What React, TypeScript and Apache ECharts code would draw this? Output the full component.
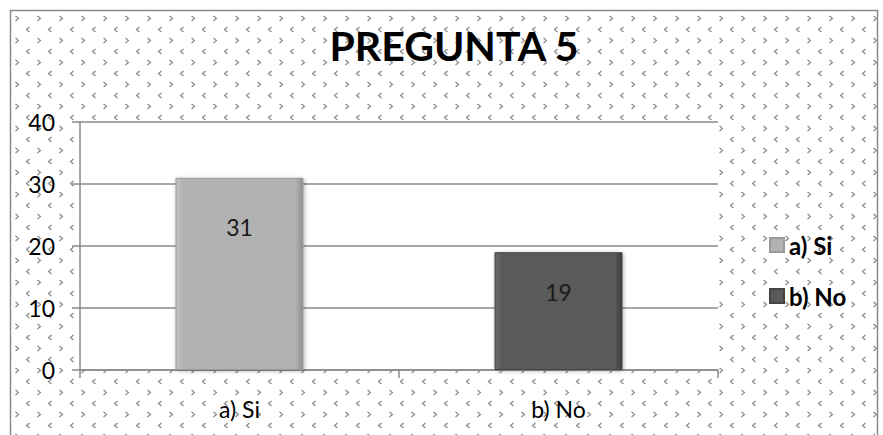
import React, { useEffect, useRef } from "react";
import * as echarts from "echarts";

const categories = ["a) Si", "b) No"];
const values = [31, 19];
const seriesColors = ["#b2b2b2", "#5a5a5a"];
const labelDistances = [38, 28];
const yTicks = { min: 0, max: 40, interval: 10 };
const titleText = "PREGUNTA 5";

function makeTile(): string {
  const c = document.createElement("canvas");
  c.width = 22;
  c.height = 22;
  const ctx = c.getContext("2d")!;
  ctx.fillStyle = "#ffffff";
  ctx.fillRect(0, 0, 22, 22);
  ctx.strokeStyle = "#8a8a8a";
  ctx.lineWidth = 1.2;
  ctx.beginPath();
  ctx.moveTo(7.5, 5);
  ctx.lineTo(4.5, 7.5);
  ctx.lineTo(7.5, 10);
  ctx.stroke();
  ctx.beginPath();
  ctx.moveTo(15.5, 16);
  ctx.lineTo(18.5, 18.5);
  ctx.lineTo(15.5, 21);
  ctx.stroke();
  return c.toDataURL();
}

export default function App() {
  const ref = useRef<HTMLDivElement>(null);
  useEffect(() => {
    document.body.style.margin = "0";
    if (!ref.current) return;
    const chart = echarts.init(ref.current, null, { renderer: "svg" });
    const tile = makeTile();
    const font = "Lato, 'Open Sans', sans-serif";
    chart.setOption({
      animation: false,
      textStyle: { fontFamily: font },
      graphic: [
        {
          type: "rect",
          z: -10,
          shape: { x: 10.5, y: 10.5, width: 867, height: 440 },
          style: { fill: { image: tile, repeat: "repeat" }, stroke: "#8a8a8a", lineWidth: 1.5 },
        },
      ],
      title: {
        text: titleText,
        left: 449,
        textAlign: "center",
        top: 20,
        textStyle: { fontSize: 41, fontWeight: "bold", color: "#000", fontFamily: font },
      },
      legend: {
        orient: "vertical",
        left: 764,
        top: 228,
        itemWidth: 14,
        itemHeight: 14,
        itemGap: 27,
        icon: "rect",
        data: categories,
        textStyle: { fontSize: 24, fontWeight: "bold", color: "#000", fontFamily: font },
      },
      grid: {
        left: 80,
        right: 165,
        top: 122,
        bottom: 65,
        show: true,
        backgroundColor: "#ffffff",
        borderWidth: 0,
      },
      xAxis: {
        type: "category",
        data: categories,
        axisLine: { show: true, lineStyle: { color: "#8a8a8a", width: 1.5 } },
        axisTick: { show: true, length: 8, lineStyle: { color: "#8a8a8a", width: 1.5 } },
        axisLabel: { fontSize: 23, color: "#000", margin: 27, fontFamily: font },
      },
      yAxis: {
        type: "value",
        min: yTicks.min,
        max: yTicks.max,
        interval: yTicks.interval,
        axisLine: { show: true, lineStyle: { color: "#8a8a8a", width: 1.5 } },
        axisTick: { show: true, length: 8, lineStyle: { color: "#8a8a8a", width: 1.5 } },
        splitLine: { show: true, lineStyle: { color: "#8a8a8a", width: 1.5 } },
        axisLabel: { fontSize: 23, color: "#000", margin: 25, fontFamily: font },
      },
      series: categories.map((name, i) => ({
        name,
        type: "bar",
        barWidth: 128,
        barGap: "-100%",
        color: seriesColors[i],
        data: categories.map((_, j) =>
          j === i
            ? {
                value: values[i],
                label: {
                  show: true,
                  position: "insideTop",
                  distance: labelDistances[i],
                  fontSize: 23,
                  color: "#1a1a1a",
                  fontFamily: font,
                },
              }
            : null
        ),
        itemStyle: {
          color: {
            type: "linear",
            x: 0,
            y: 0,
            x2: 1,
            y2: 0,
            colorStops: [
              { offset: 0, color: i === 0 ? "#c4c4c4" : "#6a6a6a" },
              { offset: 0.06, color: seriesColors[i] },
              { offset: 0.94, color: seriesColors[i] },
              { offset: 1, color: i === 0 ? "#8e8e8e" : "#3e3e3e" },
            ],
          },
          borderColor: i === 0 ? "#999" : "#444",
          borderWidth: 1,
          shadowColor: "rgba(0,0,0,0.3)",
          shadowBlur: 4,
          shadowOffsetX: 1,
          shadowOffsetY: 1,
        },
      })),
    });
    return () => chart.dispose();
  }, []);
  return <div ref={ref} style={{ width: 883, height: 435 }} />;
}
